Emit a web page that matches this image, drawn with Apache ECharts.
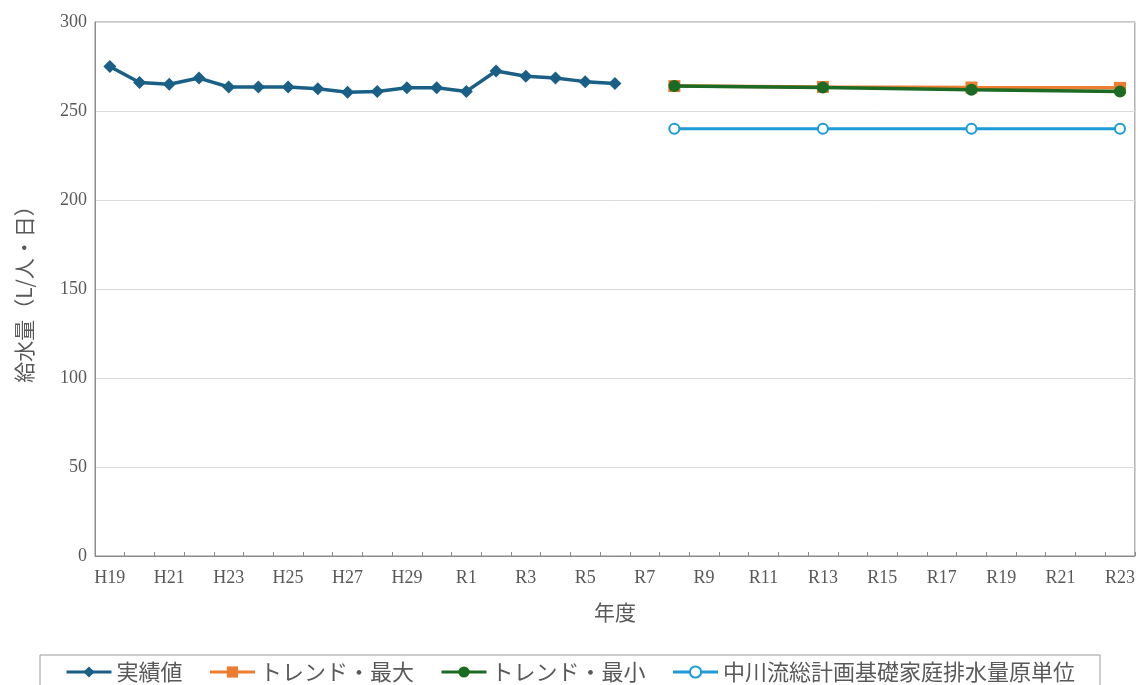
<!DOCTYPE html>
<html>
<head>
<meta charset="utf-8">
<script src="https://cdn.jsdelivr.net/npm/echarts@6/dist/echarts.min.js"></script>
<style>
  html, body { margin: 0; padding: 0; background: #ffffff; }
  #chart { width: 1138px; height: 685px; }
</style>
</head>
<body>
<div id="chart"></div>
<script>
// Fiscal years H19 .. H30, R1 .. R23
const years = [
  'H19','H20','H21','H22','H23','H24','H25','H26','H27','H28','H29','H30',
  'R1','R2','R3','R4','R5','R6','R7','R8','R9','R10','R11','R12','R13','R14',
  'R15','R16','R17','R18','R19','R20','R21','R22','R23'
];

// Recorded per-capita supply (L/person/day), H19 .. R6
const actualValues = [275, 266, 265, 268.5, 263.5, 263.5, 263.5, 262.5, 260.5, 261,
  263, 263, 261, 272.5, 269.5, 268.5, 266.5, 265.5];

// Projection years and values
const trendYears = ['R8', 'R13', 'R18', 'R23'];
const trendMax = [264, 263.5, 263.2, 263];
const trendMin = [264, 263.2, 262, 261];
const planUnit = [240, 240, 240, 240];

const yTicks = { min: 0, max: 300, interval: 50 };

function spread(keys, values) {
  return years.map(y => {
    const i = keys.indexOf(y);
    return i >= 0 ? values[i] : null;
  });
}

const actualSeries = years.map((y, i) => (i < actualValues.length ? actualValues[i] : null));

const serif = "'Liberation Serif', 'DejaVu Serif', 'Noto Sans CJK JP', serif";
const sans = "'Noto Sans CJK JP', 'Noto Sans', sans-serif";
const textGray = '#595959';

const chart = echarts.init(document.getElementById('chart'), null, { renderer: 'canvas' });

chart.setOption({
  backgroundColor: '#ffffff',
  animation: false,
  grid: {
    left: 95, right: 3, top: 22, bottom: 129,
    show: true, borderColor: '#8c8c8c', borderWidth: 1, backgroundColor: 'transparent'
  },
  xAxis: {
    type: 'category',
    data: years,
    boundaryGap: true,
    name: '年度',
    nameLocation: 'middle',
    nameGap: 46,
    nameTextStyle: { fontFamily: sans, fontSize: 21, color: textGray },
    axisLine: { show: true, lineStyle: { color: '#8c8c8c', width: 1 } },
    axisTick: { show: true, inside: true, interval: 0, length: 4, lineStyle: { color: '#8c8c8c' } },
    axisLabel: { interval: 1, fontFamily: serif, fontSize: 18, color: textGray, margin: 13 },
    splitLine: { show: false }
  },
  yAxis: {
    type: 'value',
    min: yTicks.min, max: yTicks.max, interval: yTicks.interval,
    name: '給水量（L/人・日）',
    nameLocation: 'middle',
    nameRotate: 90,
    nameGap: 60,
    nameTextStyle: { fontFamily: sans, fontSize: 21, color: textGray },
    axisLine: { show: true, lineStyle: { color: '#8c8c8c', width: 1 } },
    axisTick: { show: false },
    axisLabel: { fontFamily: serif, fontSize: 18, color: textGray, margin: 8 },
    splitLine: { show: true, lineStyle: { color: '#d9d9d9', width: 1 } }
  },
  legend: {
    left: 40, top: 655,
    padding: [6, 25, 12, 25],
    itemGap: 26,
    itemWidth: 45, itemHeight: 14,
    borderColor: '#9a9a9a', borderWidth: 1,
    lineStyle: { width: 3 },
    textStyle: { fontFamily: sans, fontSize: 22, color: textGray },
    data: ['実績値', 'トレンド・最大', 'トレンド・最小', '中川流総計画基礎家庭排水量原単位']
  },
  series: [
    {
      name: '実績値', type: 'line', data: actualSeries,
      symbol: 'diamond', symbolSize: 13,
      lineStyle: { color: '#1a5f85', width: 3.5 },
      itemStyle: { color: '#1a5f85' },
      z: 5
    },
    {
      name: 'トレンド・最大', type: 'line', data: spread(trendYears, trendMax),
      connectNulls: true,
      symbol: 'rect', symbolSize: 12,
      lineStyle: { color: '#ed7d31', width: 3.5 },
      itemStyle: { color: '#ed7d31' },
      z: 3
    },
    {
      name: 'トレンド・最小', type: 'line', data: spread(trendYears, trendMin),
      connectNulls: true,
      symbol: 'circle', symbolSize: 12,
      lineStyle: { color: '#1b6b25', width: 3.5 },
      itemStyle: { color: '#1b6b25' },
      z: 4
    },
    {
      name: '中川流総計画基礎家庭排水量原単位', type: 'line', data: spread(trendYears, planUnit),
      connectNulls: true,
      symbol: 'emptyCircle', symbolSize: 10,
      lineStyle: { color: '#1c9bd7', width: 3 },
      itemStyle: { color: '#1c9bd7', borderColor: '#1c9bd7', borderWidth: 2 },
      z: 3
    }
  ]
});
</script>
</body>
</html>
